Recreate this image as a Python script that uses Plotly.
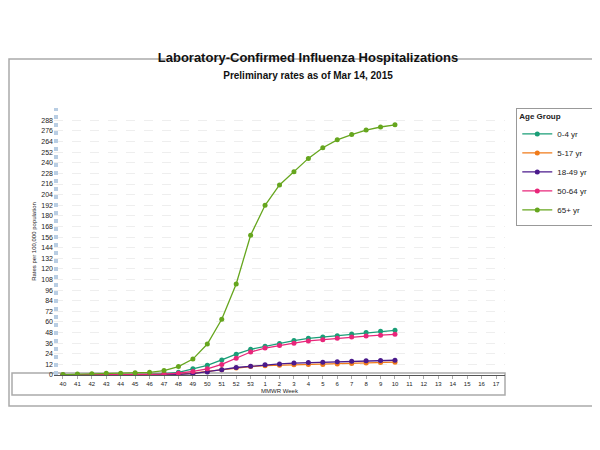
import plotly.graph_objects as go

weeks = [str(w) for w in range(40, 54)] + [str(w) for w in range(1, 18)]
age_0_4 = [0, 0, 0.3, 0.5, 0.5, 0.7, 1, 1.5, 3, 7, 11, 17, 23.5, 29, 32.5, 35.5, 39, 41.5, 43, 44.5, 46.5, 48, 49.5, 50.5]
age_5_17 = [0, 0, 0, 0.1, 0.2, 0.3, 0.4, 0.6, 1, 2, 4, 6, 8, 9.5, 10.5, 11, 11.5, 12, 12, 12.5, 13, 13.5, 14, 14.5]
age_18_49 = [0, 0, 0, 0.1, 0.2, 0.2, 0.3, 0.5, 0.8, 1.5, 3.5, 6, 8.5, 10, 11.5, 12.5, 13.5, 14, 14.5, 15, 15.5, 16, 16.3, 16.7]
age_50_64 = [0, 0, 0.2, 0.3, 0.4, 0.5, 0.7, 1, 2, 4, 7, 12, 19, 26, 30.5, 33.5, 36, 38.5, 40, 41.5, 43, 44, 45, 46]
age_65 = [0.5, 1, 1.5, 2, 2, 2.5, 3, 5, 9.5, 18, 35, 63, 103, 158, 192, 215, 230, 245, 257, 266, 272, 277, 280.5, 283]
y_ticks = list(range(0, 289, 12))

series = [("0-4 yr", age_0_4, "#1a9e77"), ("5-17 yr", age_5_17, "#f07b1a"),
          ("18-49 yr", age_18_49, "#4b1a8c"), ("50-64 yr", age_50_64, "#e8267a"),
          ("65+ yr", age_65, "#66a61e")]

fig = go.Figure()
for name, vals, col in series:
    fig.add_trace(go.Scatter(x=weeks[:len(vals)], y=vals, name=name, mode="lines+markers",
                             line=dict(color=col, width=1.3), marker=dict(color=col, size=5)))

fig.update_layout(
    width=600, height=450, paper_bgcolor="white", plot_bgcolor="white",
    margin=dict(l=46, r=103, t=100, b=83, autoexpand=False),
    font=dict(family="Liberation Sans, Arial", size=7, color="#222"),
    title=dict(text="<b>Laboratory-Confirmed Influenza Hospitalizations</b><br><span style='font-size:10px'><b>Preliminary rates as of Mar 14, 2015</b></span>",
               x=0.5, xanchor="center", y=0.88, yanchor="middle", font=dict(size=13, color="#111")),
    showlegend=True,
    legend=dict(x=1.025, y=1.0, xanchor="left", yanchor="top", bordercolor="#999", borderwidth=1,
                title=dict(text="<b>Age Group</b>", font=dict(size=8)), font=dict(size=8), itemwidth=30,
                tracegroupgap=0),
    xaxis=dict(type="category", categoryorder="array", categoryarray=weeks, range=[-0.62, 30.62],
               automargin=False,
               showline=True, linecolor="#555", ticks="outside", ticklen=3, tickcolor="#aaa",
               showgrid=False, title=dict(text="MMWR Week", font=dict(size=6), standoff=2),
               tickfont=dict(size=6)),
    yaxis=dict(range=[0, 302], tickvals=y_ticks, showgrid=True, gridcolor="#eeeeee", griddash="dash",
               automargin=False,
               zeroline=False, showline=False, tickfont=dict(size=7),
               title=dict(text="Rates per 100,000 population", font=dict(size=6), standoff=4)),
)
# decorative frames
fig.add_shape(type="rect", xref="paper", yref="paper", x0=-42/451, x1=1, y0=-20/267, y1=2/267,
              line=dict(color="#aaa", width=1.5), layer="below")
fig.add_shape(type="rect", xref="paper", yref="paper", x0=-45/451, x1=552/451, y0=-31/267, y1=316/267,
              line=dict(color="#aaa", width=1.5), layer="below")
fig.add_shape(type="line", xref="paper", yref="paper", x0=2/451, x1=2/451, y0=0, y1=1,
              line=dict(color="#b8cde3", width=4, dash="dot"))
fig.write_html("out.html")
